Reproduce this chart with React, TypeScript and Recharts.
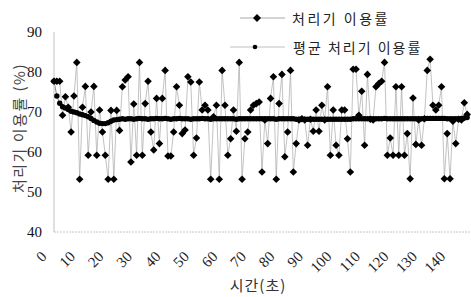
import React from "react"
import { LineChart, Line, XAxis, YAxis } from "recharts"

// 처리기 이용률 (%) — one sample per second
const usage: number[] = [
    77.7, 77.7, 77.7, 69.2, 73.8, 71.2, 65, 74, 82.4, 53.2,
    71.2, 76.4, 59.2, 70, 76.4, 59.2, 70.5, 65, 59.2, 53.2,
    70.4, 53.2, 70.4, 65.4, 76.3, 78, 78.8, 57.5, 72, 59.2,
    82.4, 59.2, 72.1, 77.7, 65, 60.5, 73.4, 62.1, 73.4, 80.4,
    59, 59, 65, 76.3, 71.7, 64.6, 65.5, 78.8, 77.5, 59.2,
    63.5, 77.5, 70.5, 71.7, 70.5, 53.2, 68.8, 71.7, 53.2, 80.4,
    71.7, 59.2, 63.3, 70.5, 65.2, 82.4, 53.2, 63.3, 65, 70.5,
    71.7, 72.1, 72.5, 55, 68, 62.1, 73.4, 78.8, 53.2, 72.1,
    79.4, 58.8, 65, 80.4, 55, 62.1, 68, 68.3, 68, 61.7,
    68.2, 65.2, 70.5, 65.2, 71.7, 68, 76.3, 59.2, 70.5, 61.7,
    59.2, 70.5, 70.5, 63.3, 55, 80.7, 80.7, 69.2, 75.2, 61.7,
    79.4, 68.2, 68, 76.3, 77.1, 77.7, 82.4, 59.2, 63.5, 59.2,
    76.3, 59.2, 76.3, 59.2, 64.6, 53.3, 73.5, 61.9, 68, 61.7,
    68.3, 80.4, 83.2, 71.7, 70.5, 71.7, 76.3, 53.3, 64.6, 53.3,
    67.7, 62.1, 68.2, 68, 72.3, 69.4,
]

// 평균 처리기 이용률 (%)
const average: number[] = [
    77.7, 74, 72.2, 71.3, 71, 70.6, 70.2, 70, 69.8, 69.5,
    69.3, 69.1, 68.8, 68.4, 67.9, 67.5, 67.2, 67.1, 67.1, 67.3,
    67.7, 68, 68.1, 68.2, 68.3, 68.2, 68.3, 68.3, 68.2, 68.3,
    68.4, 68.3, 68.3, 68.2, 68.3, 68.3, 68.4, 68.3, 68.3, 68.4,
    68.3, 68.2, 68.3, 68.3, 68.4, 68.3, 68.3, 68.3, 68.2, 68.3,
    68.3, 68.3, 68.4, 68.3, 68.3, 68.2, 68.3, 68.3, 68.3, 68.3,
    68.3, 68.3, 68.3, 68.3, 68.2, 68.3, 68.3, 68.3, 68.3, 68.3,
    68.3, 68.3, 68.3, 68.3, 68.3, 68.3, 68.3, 68.3, 68.2, 68.3,
    68.3, 68.3, 68.3, 68.3, 68.3, 68.2, 68.2, 68.2, 68.2, 68.2,
    68.2, 68.2, 68.2, 68.2, 68.2, 68.2, 68.2, 68.2, 68.2, 68.2,
    68.2, 68.2, 68.2, 68.2, 68.2, 68.3, 68.3, 68.3, 68.3, 68.3,
    68.3, 68.3, 68.3, 68.3, 68.3, 68.3, 68.4, 68.3, 68.3, 68.3,
    68.3, 68.3, 68.3, 68.3, 68.3, 68.3, 68.3, 68.3, 68.3, 68.3,
    68.3, 68.4, 68.4, 68.4, 68.4, 68.4, 68.4, 68.4, 68.3, 68.3,
    68.3, 68.3, 68.3, 68.4, 68.5, 68.6,
]

const xTicks = [0, 10, 20, 30, 40, 50, 60, 70, 80, 90, 100, 110, 120, 130, 140]
const yTicks = [40, 50, 60, 70, 80, 90]

const data = usage.map((u, i) => ({ t: i, usage: u, avg: average[i] }))

const serif = "'Liberation Serif', 'DejaVu Serif', serif"
const kr = "'Noto Sans CJK KR', 'Noto Sans', sans-serif"

const diamond = (size: number) => (props: any) => {
    const { cx, cy, index } = props
    if (cx == null || cy == null) return <g key={index} />
    return (
        <path
            key={index}
            d={`M${cx},${cy - size}L${cx + size},${cy}L${cx},${cy + size}L${cx - size},${cy}Z`}
            fill="#000"
        />
    )
}

export default function App() {
    return (
        <div style={{ position: "absolute", left: 0, top: 0, width: 471, height: 297, background: "#fff" }}>
            <LineChart width={471} height={297} data={data} margin={{ top: 32, right: 1, bottom: 0, left: 14 }}>
                <XAxis
                    dataKey="t"
                    type="number"
                    domain={[0, 146]}
                    ticks={xTicks}
                    interval={0}
                    height={65}
                    tickLine={false}
                    angle={-45}
                    axisLine={{ stroke: "#c8c8c8", strokeDasharray: "2 1" }}
                    tick={{ fontFamily: serif, fontSize: 15, fill: "#222", textAnchor: "end", dx: -14, dy: 10 }}
                />
                <YAxis
                    domain={[40, 90]}
                    ticks={yTicks}
                    width={40}
                    tickLine={false}
                    tickSize={4}
                    tickMargin={8}
                    axisLine={{ stroke: "#c0c0c0" }}
                    tick={{ fontFamily: serif, fontSize: 15, fill: "#111" }}
                />
                <Line
                    dataKey="usage"
                    type="linear"
                    stroke="#a8a8a8"
                    strokeWidth={0.7}
                    dot={diamond(3.8)}
                    activeDot={false}
                    isAnimationActive={false}
                />
                <Line
                    dataKey="avg"
                    type="linear"
                    stroke="#888"
                    strokeWidth={1}
                    dot={{ r: 2.7, fill: "#000", stroke: "none" }}
                    activeDot={false}
                    isAnimationActive={false}
                />
            </LineChart>
            <svg width={471} height={297} style={{ position: "absolute", left: 0, top: 0, pointerEvents: "none" }}>
                {/* legend */}
                <line x1={240} y1={18} x2={285} y2={18} stroke="#a8a8a8" strokeWidth={1} />
                <path d="M257,14L261,18L257,22L253,18Z" fill="#000" />
                <text x={292} y={18} dominantBaseline="central" fontFamily={kr} fontSize={14} letterSpacing={2.5} fill="#222">
                    처리기 이용률
                </text>
                <line x1={230} y1={47} x2={285} y2={47} stroke="#c0c0c0" strokeWidth={1} />
                <circle cx={255} cy={47} r={2.3} fill="#000" />
                <text x={293} y={47} dominantBaseline="central" fontFamily={kr} fontSize={14} letterSpacing={2} fill="#222">
                    평균 처리기 이용률
                </text>
                {/* axis titles */}
                <text
                    x={18}
                    y={128}
                    transform="rotate(-90, 18, 128)"
                    textAnchor="middle"
                    dominantBaseline="central"
                    fontFamily={kr}
                    fontSize={15}
                    letterSpacing={1.5}
                    fill="#444"
                >
                    처리기 이용률 (%)
                </text>
                <text x={258} y={284} textAnchor="middle" dominantBaseline="central" fontFamily={kr} fontSize={15} letterSpacing={1} fill="#333">
                    시간(초)
                </text>
            </svg>
        </div>
    )
}
